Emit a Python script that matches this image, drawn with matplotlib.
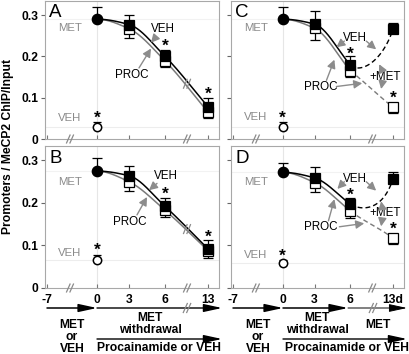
import numpy as np
import matplotlib
matplotlib.use('Agg')
import matplotlib.pyplot as plt
from matplotlib.patches import FancyArrowPatch

plt.rcParams['font.family'] = ['Liberation Sans', 'DejaVu Sans']

# ---------------- data ----------------
panels = ['A', 'B', 'C', 'D']
days = [0, 3, 6, 13]
tick_days = [-7, 0, 3, 6, 13]
tick_labels_left = ['-7', '0', '3', '6', '13']
tick_labels_right = ['-7', '0', '3', '6', '13d']
yticks = [0, 0.1, 0.2, 0.3]
ytick_labels = ['0', '0.1', '0.2', '0.3']

met0 = [0.290, 0.275, 0.290, 0.272]
met0_err = [0.030, 0.031, 0.029, 0.022]
veh0 = [0.030, 0.066, 0.030, 0.059]
veh0_err = [0.010, 0.012, 0.010, 0.008]
veh_vals = [[0.277, 0.200, 0.078], [0.264, 0.192, 0.092],
            [0.278, 0.179, 0.266], [0.259, 0.197, 0.257]]
veh_err = [[0.023, 0.015, 0.022], [0.022, 0.019, 0.020],
           [0.033, 0.021, 0.014], [0.026, 0.015, 0.015]]
proc_vals = [[0.267, 0.189, 0.065], [0.250, 0.183, 0.088],
             [0.268, 0.165, 0.077], [0.248, 0.181, 0.117]]
proc_err = [[0.023, 0.014, 0.013], [0.022, 0.016, 0.018],
            [0.028, 0.014, 0.013], [0.022, 0.017, 0.014]]

# broken time axis: position of each day on the axis
xpos = {-7: -50, 0: 0, 3: 32, 6: 68, 13: 111}

GRAY = '#8a8a8a'
ARROW_GRAY = '#8c8c8c'


def hermite(xk, yk, n=120):
    xk = np.asarray(xk, float); yk = np.asarray(yk, float)
    h = np.diff(xk); d = np.diff(yk) / h
    m = np.zeros_like(yk)
    for i in range(1, len(xk) - 1):
        if d[i - 1] * d[i] > 0:
            w1 = 2 * h[i] + h[i - 1]; w2 = h[i] + 2 * h[i - 1]
            m[i] = (w1 + w2) / (w1 / d[i - 1] + w2 / d[i])
    m[0] = 0.0
    m[-1] = d[-1]
    xs, ys = [], []
    for i in range(len(xk) - 1):
        t = np.linspace(0, 1, n)
        h00 = 2 * t**3 - 3 * t**2 + 1; h10 = t**3 - 2 * t**2 + t
        h01 = -2 * t**3 + 3 * t**2; h11 = t**3 - t**2
        xs.append(xk[i] + t * h[i])
        ys.append(h00 * yk[i] + h10 * h[i] * m[i] + h01 * yk[i + 1] + h11 * h[i] * m[i + 1])
    return np.concatenate(xs), np.concatenate(ys)


def bezier(p0, p1, p2, p3, n=100):
    t = np.linspace(0, 1, n)[:, None]
    pts = ((1 - t)**3 * np.array(p0) + 3 * (1 - t)**2 * t * np.array(p1)
           + 3 * (1 - t) * t**2 * np.array(p2) + t**3 * np.array(p3))
    return pts[:, 0], pts[:, 1]


fig = plt.figure(figsize=(4.10, 3.54), dpi=100)
W, H = 410.0, 354.0
XL = (-52, 122)
YL = (0, 0.334)
rects = {'A': (45, 1, 219, 139), 'C': (231, 1, 404, 139),
         'B': (45, 146, 219, 288), 'D': (231, 146, 404, 288)}

ax_of = {}
for p in panels:
    l, t, r, b = rects[p]
    ax = fig.add_axes([l / W, 1 - b / H, (r - l) / W, (b - t) / H])
    ax_of[p] = ax
    ax.set_xlim(*XL); ax.set_ylim(*YL)
    for s in ax.spines.values():
        s.set_color('#a8a8a8'); s.set_linewidth(0.8)
    ax.set_yticks(yticks)
    if p in ('A', 'B'):
        ax.set_yticklabels(ytick_labels, fontweight='bold', fontsize=8.7)
    else:
        ax.set_yticklabels([])
    ax.tick_params(axis='y', direction='out', length=3, width=0.8, color='#666666', pad=2)
    ax.set_xticks([xpos[d] for d in tick_days])
    if p == 'B':
        ax.set_xticklabels(tick_labels_left, fontweight='bold', fontsize=8.7)
    elif p == 'D':
        ax.set_xticklabels(tick_labels_right, fontweight='bold', fontsize=8.7)
    else:
        ax.set_xticklabels([])
    ax.tick_params(axis='x', direction='in', length=3, width=0.8, color='#777777', pad=4)


def px(ax):
    l, t, r, b = rects[[k for k, v in ax_of.items() if v is ax][0]]
    ux = (XL[1] - XL[0]) / (r - l)
    uy = (YL[1] - YL[0]) / (b - t)
    return ux, uy


def slash(ax, x, y, size=4.5, color=GRAY, lw=0.9):
    ux, uy = px(ax)
    for off in (-1.7, 1.7):
        ax.plot([x + (off - 2) * ux, x + (off + 2) * ux], [y - size * uy, y + size * uy],
                color=color, lw=lw, clip_on=False, zorder=6, solid_capstyle='butt')


def arrow(ax, xy_from, xy_to):
    ax.add_patch(FancyArrowPatch(xy_from, xy_to, arrowstyle='-|>,head_length=0.55,head_width=0.28',
                                 mutation_scale=9, color=ARROW_GRAY, lw=1.0,
                                 shrinkA=0, shrinkB=0, zorder=5))


xs_sq = [xpos[d] for d in days[1:]]
TXT = dict(fontsize=8.4, color='black', ha='center', va='center')

for i, p in enumerate(panels):
    ax = ax_of[p]
    # faint guide lines
    ax.axvline(0, color='#e6e6e6', lw=0.8, zorder=0)
    ax.axhline(veh0[i], color='#ededed', lw=0.8, zorder=0)
    ax.axhline(met0[i], color='#f2f2f2', lw=0.8, zorder=0)
    # bottom-axis breaks
    slash(ax, -27, 0, color=GRAY)
    slash(ax, 90, 0, color=GRAY)

    if p in ('A', 'B'):
        vx, vy = hermite([0] + xs_sq, [met0[i]] + veh_vals[i])
        px_, py_ = hermite([0] + xs_sq, [met0[i]] + proc_vals[i])
        ax.plot(px_, py_, color='#7a7a7a', lw=1.1, zorder=2)
        ax.plot(vx, vy, color='black', lw=1.1, zorder=3)
        yb = (np.interp(90, vx, vy) + np.interp(90, px_, py_)) / 2
        slash(ax, 90, yb, size=5, color=GRAY)
    else:
        vx, vy = hermite([0] + xs_sq[:2], [met0[i]] + veh_vals[i][:2])
        px_, py_ = hermite([0] + xs_sq[:2], [met0[i]] + proc_vals[i][:2])
        ax.plot(px_, py_, color='#7a7a7a', lw=1.1, zorder=2)
        ax.plot(vx, vy, color='black', lw=1.1, zorder=3)
        x6, x13 = xs_sq[1], xs_sq[2]
        v6, v13 = veh_vals[i][1], veh_vals[i][2]
        q6, q13 = proc_vals[i][1], proc_vals[i][2]
        dip = 0.022 if p == 'C' else 0.014
        bx, by = bezier((x6, v6), (x6 + 10, v6 - dip), (x13 - 11, v13 - 0.08), (x13, v13))
        ax.plot(bx, by, color='black', lw=1.0, ls=(0, (3.5, 2.2)), zorder=3)
        gx, gy = bezier((x6, q6), (x6 + 12, q6 - 0.022), (x13 - 12, q13 + 0.022), (x13, q13))
        ax.plot(gx, gy, color='#7a7a7a', lw=1.0, ls=(0, (3.5, 2.2)), zorder=2)

    # error bars
    ax.errorbar(xs_sq, proc_vals[i], yerr=[proc_err[i], [0] * 3], fmt='none',
                ecolor='black', elinewidth=0.9, capsize=3.5, capthick=0.9, zorder=4)
    ax.errorbar(xs_sq, veh_vals[i], yerr=[[0] * 3, veh_err[i]], fmt='none',
                ecolor='black', elinewidth=0.9, capsize=3.5, capthick=0.9, zorder=4)
    ax.errorbar([0], [met0[i]], yerr=[[0], [met0_err[i]]], fmt='none',
                ecolor='black', elinewidth=0.9, capsize=3.5, capthick=0.9, zorder=4)
    ax.errorbar([0], [veh0[i]], yerr=[[0], [veh0_err[i]]], fmt='none',
                ecolor='black', elinewidth=0.9, capsize=3.0, capthick=0.9, zorder=4)
    # markers
    ax.plot(xs_sq, proc_vals[i], 's', ms=6.6, mfc='white', mec='black', mew=0.9, zorder=5)
    ax.plot(xs_sq, veh_vals[i], 's', ms=6.6, mfc='black', mec='black', mew=0.9, zorder=6)
    ax.plot([0], [met0[i]], 'o', ms=7.4, mfc='black', mec='black', zorder=6)
    ax.plot([0], [veh0[i]], 'o', ms=6.0, mfc='white', mec='black', mew=1.1, zorder=6)

    # side labels
    ax.text(-27, {'A': 0.268, 'B': 0.250, 'C': 0.269, 'D': 0.250}[p], 'MET',
            color=GRAY, fontsize=8.2, ha='center', va='center')
    ax.text(-27, {'A': 0.051, 'B': 0.082, 'C': 0.053, 'D': 0.077}[p], 'VEH',
            color=GRAY, fontsize=8.2, ha='center', va='center')
    ax.text(0.025, 0.975, p, transform=ax.transAxes, fontsize=13.5, ha='left', va='top')

    # asterisks
    stars = {'A': [(0, 0.050), (68, 0.225), (111, 0.108)],
             'B': [(0, 0.088), (68, 0.220), (111, 0.120)],
             'C': [(0, 0.050), (68, 0.206), (111, 0.098)],
             'D': [(0, 0.075), (68, 0.219), (111, 0.138)]}[p]
    for sx, sy in stars:
        ax.text(sx, sy, '*', fontsize=12.5, fontweight='bold', ha='center', va='center', zorder=7)

# curve labels and arrows
axA, axB, axC, axD = (ax_of[k] for k in panels)
axA.text(66, 0.266, 'VEH', **TXT)
arrow(axA, (59, 0.247), (54, 0.233))
axA.text(35, 0.155, 'PROC', **TXT)
arrow(axA, (42, 0.172), (54, 0.219))

axB.text(69, 0.263, 'VEH', **TXT)
arrow(axB, (60, 0.246), (52, 0.230))
axB.text(33, 0.155, 'PROC', **TXT)
arrow(axB, (40, 0.172), (50, 0.214))

for ax, vy, my, py in ((axC, 0.244, 0.150, 0.126), (axD, 0.257, 0.176, 0.143)):
    ax.text(73, vy, 'VEH', **TXT)
    ax.text(103, my, '+MET', **TXT)
    ax.text(38, py, 'PROC', **TXT)
arrow(axC, (62, 0.237), (54, 0.222))
arrow(axC, (84, 0.237), (94, 0.217))
arrow(axC, (100, 0.166), (97, 0.181))
arrow(axC, (100, 0.134), (99, 0.121))
arrow(axC, (44, 0.142), (52, 0.192))
arrow(axC, (54, 0.127), (80, 0.135))

arrow(axD, (62, 0.250), (55, 0.233))
arrow(axD, (84, 0.250), (94, 0.229))
arrow(axD, (100, 0.190), (99, 0.204))
arrow(axD, (100, 0.161), (99, 0.145))
arrow(axD, (46, 0.158), (52, 0.209))
arrow(axD, (57, 0.144), (82, 0.152))

# y label
fig.text(8 / W, 1 - 147 / H, 'Promoters / MeCP2 ChIP/Input', rotation=90,
         fontweight='bold', fontsize=8.7, ha='center', va='center')

# ---------------- timeline below ----------------
ov = fig.add_axes([0, 0, 1, 1], zorder=10)
ov.set_xlim(0, W); ov.set_ylim(H, 0); ov.axis('off')
ov.patch.set_alpha(0)


def tl_arrow(x0, x1, y, color='black', lw=1.1):
    ov.add_patch(FancyArrowPatch((x0, y), (x1, y),
                                 arrowstyle='-|>,head_length=1.1,head_width=0.24',
                                 mutation_scale=10, color=color, lw=lw,
                                 shrinkA=0, shrinkB=0))


def tl_slash(x, y):
    for off in (-1.7, 1.7):
        ov.plot([x + off - 2, x + off + 2], [y + 4.5, y - 4.5], color=GRAY, lw=0.9)


B = dict(fontweight='bold', fontsize=8.7, ha='center', va='center')
# left
tl_arrow(47, 97, 308)
tl_arrow(97, 222, 308, lw=1.0)
tl_slash(187, 308)
tl_arrow(97, 222, 339, lw=1.0)
ov.text(72, 337, 'MET\nor\nVEH', linespacing=1.0, **B)
ov.text(150, 324, 'MET\nwithdrawal', linespacing=1.0, **B)
ov.text(159, 348, 'Procainamide or VEH', **B)
# right
tl_arrow(233, 283, 308)
tl_arrow(283, 348, 308)
ov.add_patch(FancyArrowPatch((348, 308), (407, 308),
                             arrowstyle='-|>,head_length=1.1,head_width=0.24',
                             mutation_scale=10, color='black', lw=0.7,
                             shrinkA=0, shrinkB=0))
tl_slash(373, 308)
tl_arrow(283, 407, 339, lw=1.0)
ov.text(258, 337, 'MET\nor\nVEH', linespacing=1.0, **B)
ov.text(317, 324, 'MET\nwithdrawal', linespacing=1.0, **B)
ov.text(378, 325, 'MET', **B)
ov.text(347, 348, 'Procainamide or VEH', **B)

fig.savefig('out.png', dpi=100)
